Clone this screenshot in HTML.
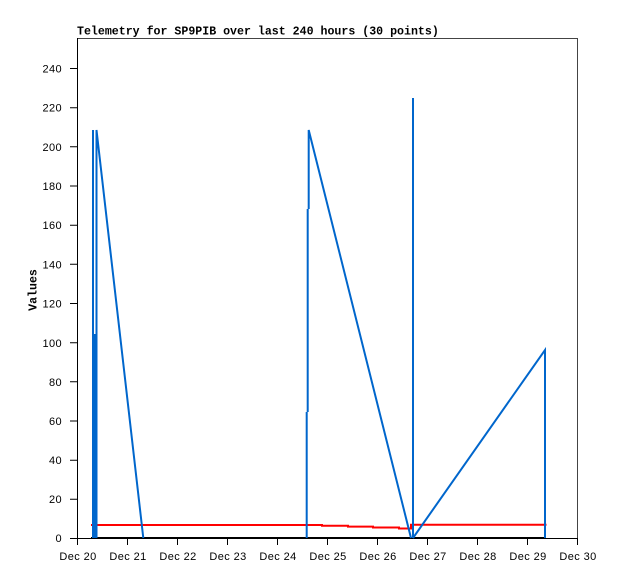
<!DOCTYPE html>
<html><head><meta charset="utf-8"><style>
html,body{margin:0;padding:0;background:#fff;}
svg{display:block;}
.t{font-family:"Liberation Mono",monospace;font-weight:bold;font-size:11.6px;fill:#000;}
.l{font-family:"Liberation Sans",sans-serif;font-size:11px;letter-spacing:0.4px;fill:#000;}
</style></head><body>
<svg width="618" height="579" viewBox="0 0 618 579" xmlns="http://www.w3.org/2000/svg">
<rect width="618" height="579" fill="#fff"/>
<text class="t" x="77" y="34.5">Telemetry for SP9PIB over last 240 hours (30 points)</text>
<!-- frame -->
<path d="M77.5 38.5 H577.5 V538" fill="none" stroke="#444" stroke-width="1"/>
<path d="M77.5 38 V538.5 H577.5" fill="none" stroke="#000" stroke-width="1"/>
<!-- y ticks -->
<g stroke="#000" stroke-width="1">
<path d="M70 538.5H77 M70 499.3H77 M70 460.2H77 M70 421H77 M70 381.8H77 M70 342.7H77 M70 303.5H77 M70 264.3H77 M70 225.2H77 M70 186H77 M70 146.8H77 M70 107.7H77 M70 68.5H77"/>
<path d="M77.5 538V545 M127.5 538V545 M177.5 538V545 M227.5 538V545 M277.5 538V545 M327.5 538V545 M377.5 538V545 M427.5 538V545 M477.5 538V545 M527.5 538V545 M577.5 538V545"/>
</g>
<g class="l" text-anchor="end">
<text x="62" y="542">0</text>
<text x="62" y="503">20</text>
<text x="62" y="464">40</text>
<text x="62" y="425">60</text>
<text x="62" y="386">80</text>
<text x="62" y="347">100</text>
<text x="62" y="307.5">120</text>
<text x="62" y="268.5">140</text>
<text x="62" y="229">160</text>
<text x="62" y="190">180</text>
<text x="62" y="151">200</text>
<text x="62" y="111.5">220</text>
<text x="62" y="72.5">240</text>
</g>
<g class="l" text-anchor="middle">
<text x="78" y="560">Dec 20</text>
<text x="128" y="560">Dec 21</text>
<text x="178" y="560">Dec 22</text>
<text x="228" y="560">Dec 23</text>
<text x="278" y="560">Dec 24</text>
<text x="328" y="560">Dec 25</text>
<text x="378" y="560">Dec 26</text>
<text x="428" y="560">Dec 27</text>
<text x="478" y="560">Dec 28</text>
<text x="528" y="560">Dec 29</text>
<text x="578" y="560">Dec 30</text>
</g>
<text class="t" font-size="11px" transform="translate(36.5,290) rotate(-90)" text-anchor="middle">Values</text>
<!-- black series at 0 -->
<path d="M91 538 H546" stroke="#000" stroke-width="2" fill="none"/>
<!-- red series -->
<path d="M91 525 H322 V525.8 H348 V526.6 H373 V527.5 H399 V528.5 H411 V524.8 H546.5" stroke="#ff0000" stroke-width="2" fill="none"/>
<!-- blue series -->
<g stroke="#0066cc" stroke-width="2" fill="none">
<path d="M93 538 V130"/>
<path d="M96.5 334 V130 L143.3 538"/>
<path d="M306.7 538 V412 M307.7 412 V209 M308.7 209 V130 L411 538"/>
<path d="M413 538 V98"/>
<path d="M413 538 L545 350 V538"/>
</g>
<rect x="92" y="334" width="5.5" height="204" fill="#0066cc"/>
</svg>
</body></html>
